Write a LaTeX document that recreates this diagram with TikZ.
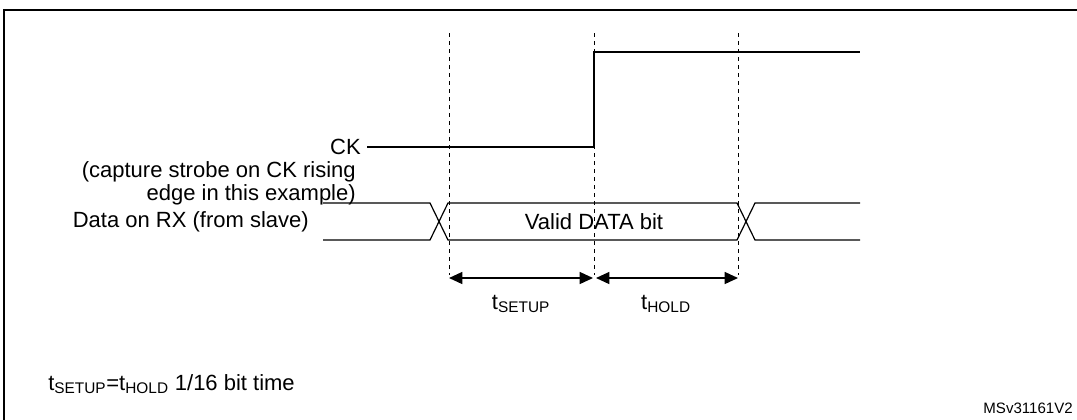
\documentclass[tikz,border=0pt]{standalone}
\usepackage{fontspec}
\setmainfont{Liberation Sans}
\usetikzlibrary{arrows.meta}

\begin{document}
\begin{tikzpicture}[x=0.75pt,y=-0.75pt,
  every node/.style={font=\fontsize{16.5}{19}\selectfont, inner sep=0pt},
  sig/.style={line width=0.9pt},
  guide/.style={dashed, line width=0.7pt},
  dim/.style={line width=1pt, {Triangle[length=10pt,width=9pt]}-{Triangle[length=10pt,width=9pt]}}]
\useasboundingbox (0,0) rectangle (1077,419);
\draw[line width=1.2pt] (4,430) -- (4,10) -- (1090,10);

% timing guides
\foreach \x/\n in {449/ga,594/gb,738/gc}
  \draw[guide] (\x,33) coordinate (\n top) -- (\x,275) coordinate (\n bot);

% CK
\node[anchor=east] (ck) at (361,147) {CK};
\draw[sig] (ck.east) ++(6,0) -- (594,147) -- (594,52) -- (860,52);
\node[anchor=east] (note1) at (356,172) {(capture strobe on CK rising};
\node[anchor=east] (note2) at (356,195) {edge in this example)};

% data on RX
\node[anchor=east] (rx) at (309,222) {Data on RX (from slave)};
\draw[sig] (323,203) -- (430,203) -- (448,240) -- (737,240) -- (755,203) -- (860,203);
\draw[sig] (323,240) -- (430,240) -- (448,203) -- (737,203) -- (755,240) -- (860,240);
\node (valid) at (594,222) {Valid DATA bit};

% setup / hold
\coordinate (a) at (449,278);
\coordinate (b) at (593,278);
\coordinate (c) at (596,278);
\coordinate (d) at (738,278);
\draw[dim] (a) -- (b);
\draw[dim] (c) -- (d);
\node (setup) at (521,304) {t\textsubscript{SETUP}};
\node (hold) at (666,304) {t\textsubscript{HOLD}};

\node[anchor=west] (eq) at (48,384) {t\textsubscript{SETUP}=t\textsubscript{HOLD} 1/16 bit time};
\node[anchor=east, font=\fontsize{11.3}{13}\selectfont] (id) at (1073,408) {MSv31161V2};
\end{tikzpicture}
\end{document}
